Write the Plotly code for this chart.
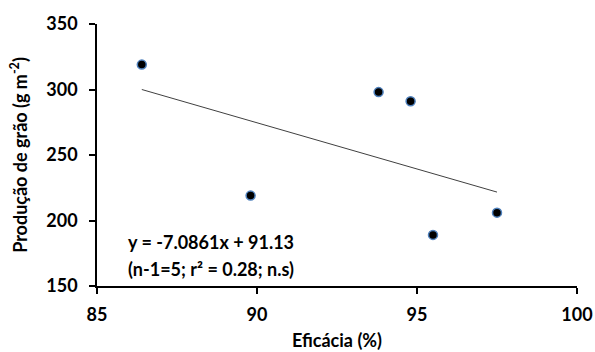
import numpy as np
import plotly.graph_objects as go

eficacia = [86.4, 89.8, 93.8, 94.8, 95.5, 97.5]
producao = [319, 219, 298, 291, 189, 206]
x_ticks = [85, 90, 95, 100]
y_ticks = [150, 200, 250, 300, 350]
eq_line1 = "y = -7.0861x + 91.13"
eq_line2 = "(n-1=5; r² = 0.28; n.s)"

slope, intercept = np.polyfit(eficacia, producao, 1)
xl = np.array([min(eficacia), max(eficacia)])
yl = slope * xl + intercept

FONT = "Lato"
fig = go.Figure()
fig.add_trace(go.Scatter(x=xl, y=yl, mode="lines",
                         line=dict(color="#404040", width=1), showlegend=False, hoverinfo="skip"))
fig.add_trace(go.Scatter(x=eficacia, y=producao, mode="markers",
                         marker=dict(color="black", size=9, line=dict(color="#4F81BD", width=1.5)),
                         showlegend=False))

fig.add_annotation(x=88.56, y=183.8, xref="x", yref="y", text=f"<b>{eq_line1}</b>",
                   showarrow=False, font=dict(family=FONT, size=18, color="black"))
fig.add_annotation(x=88.56, y=163.2, xref="x", yref="y", text=f"<b>{eq_line2}</b>",
                   showarrow=False, font=dict(family=FONT, size=18, color="black"))

axis_common = dict(showline=True, linecolor="black", linewidth=1.5, ticks="outside",
                   ticklen=6, tickwidth=1.5, tickcolor="black", showgrid=False, zeroline=False,
                   automargin=False,
                   tickfont=dict(family=FONT, size=18, color="black", weight="bold"))
fig.update_xaxes(range=[85, 100], tickvals=x_ticks, ticklabelstandoff=6, **axis_common,
                 title=dict(text="<b>Eficácia (%)</b>", font=dict(family=FONT, size=18, color="black"), standoff=10))
fig.update_yaxes(range=[150, 350], tickvals=y_ticks, ticklabelstandoff=8, **axis_common,
                 title=dict(text="<b>Produção de grão (g m<sup>-2</sup>)</b>", font=dict(family=FONT, size=18, color="black"), standoff=14))

fig.update_layout(width=595, height=352, margin=dict(l=97, r=18, t=24, b=66),
                  plot_bgcolor="white", paper_bgcolor="white")
fig.write_html("out.html")
